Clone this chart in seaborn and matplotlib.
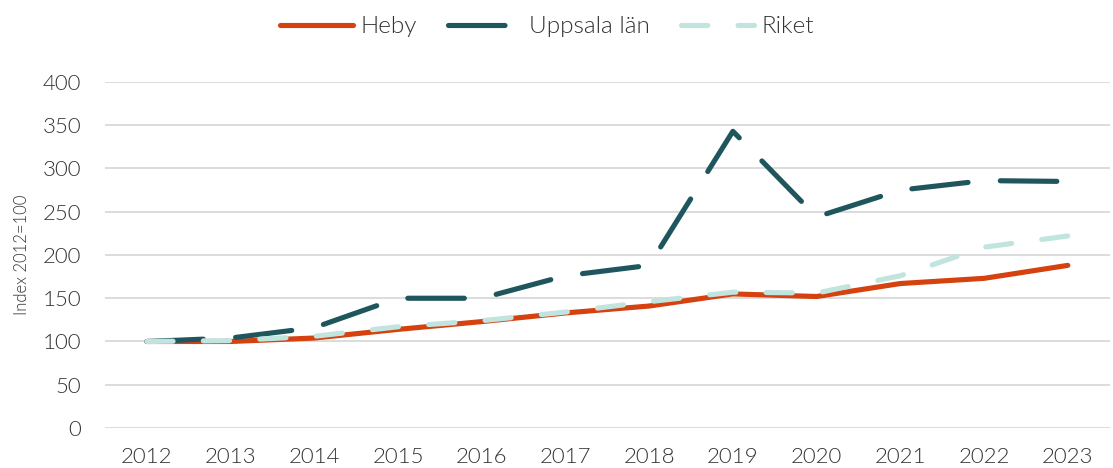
import matplotlib
matplotlib.use("Agg")
import matplotlib.pyplot as plt
import seaborn as sns
import pandas as pd

years = [2012, 2013, 2014, 2015, 2016, 2017, 2018, 2019, 2020, 2021, 2022, 2023]
heby = [100, 100, 104, 114, 123, 133, 141, 155, 152, 167, 173, 188]
uppsala = [100, 104, 116, 150, 150, 176, 188, 343, 244, 275, 286, 285]
riket = [100, 101, 106, 117, 124, 134, 146, 157, 156, 176, 209, 222]
series_names = ["Heby", "Uppsala län", "Riket"]
colors = ["#D5410F", "#1F565E", "#C2E4DF"]
yticks = [0, 50, 100, 150, 200, 250, 300, 350, 400]

df = pd.DataFrame({
    "year": years * 3,
    "value": heby + uppsala + riket,
    "serie": [series_names[0]] * 12 + [series_names[1]] * 12 + [series_names[2]] * 12,
})

sns.set_theme(style="white")
plt.rcParams["font.family"] = ["Lato", "DejaVu Sans"]
plt.rcParams["font.weight"] = 300
plt.rcParams["axes.labelweight"] = 300
plt.rcParams["lines.solid_capstyle"] = "round"
plt.rcParams["lines.dash_capstyle"] = "round"

fig = plt.figure(figsize=(11.13, 4.68), dpi=100)
ax = fig.add_axes([0.0943, 0.0855, 0.9027, 0.7393])

sns.lineplot(data=df, x="year", y="value", hue="serie", style="serie",
             palette=dict(zip(series_names, colors)),
             dashes={"Heby": "", "Uppsala län": (11, 6.3), "Riket": (5.1, 5.9)},
             linewidth=3.7, ax=ax, legend=True, sort=False)

for ln in ax.get_lines():
    ln.set_solid_capstyle("round")
    ln.set_dash_capstyle("round")
    ln.set_solid_joinstyle("round")
    ln.set_dash_joinstyle("round")

ax.set_xlim(2011.5, 2023.5)
ax.set_ylim(0, 400)
ax.set_yticks(yticks)
ax.set_xticks(years)
ax.yaxis.grid(True, color="#D9D9D9", linewidth=1.3)
ax.xaxis.grid(False)
for s in ax.spines.values():
    s.set_visible(False)
ax.tick_params(axis="both", length=0, labelsize=16, colors="#333333")
ax.tick_params(axis="y", pad=17)
ax.tick_params(axis="x", pad=14)
ax.set_xlabel("")
ax.set_ylabel("Index 2012=100", fontsize=12, color="#333333", labelpad=9, fontweight=300)

handles, labels = ax.get_legend_handles_labels()
for h in handles:
    h.set_solid_capstyle("round")
    h.set_dash_capstyle("round")
leg = ax.legend(handles, labels, loc="center", bbox_to_anchor=(0.44, 1.159), ncol=3,
                frameon=False, fontsize=17.5, handlelength=3.0, handletextpad=0.3,
                columnspacing=1.3)
for t in leg.get_texts():
    t.set_color("#333333")

fig.savefig("out.png", dpi=100)
